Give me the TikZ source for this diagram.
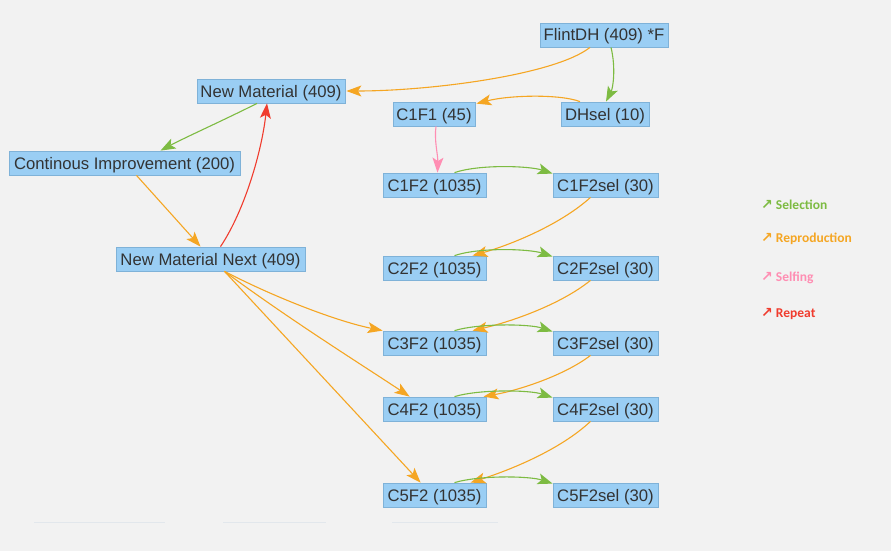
\documentclass[tikz,border=0pt]{standalone}
\usepackage{fontspec}
\setmainfont{Liberation Sans}
\newfontfamily\legfont{Carlito}
\newfontfamily\symfont{DejaVu Sans}
\usetikzlibrary{arrows.meta,calc}
\definecolor{bgc}{HTML}{F2F2F2}
\definecolor{nodefill}{HTML}{9ACEF4}
\definecolor{nodedraw}{HTML}{7FB2D8}
\definecolor{txt}{HTML}{333333}
\definecolor{selc}{HTML}{7DBB42}
\definecolor{repc}{HTML}{F5A623}
\definecolor{selfc}{HTML}{FF8EB3}
\definecolor{rptc}{HTML}{F03C2E}
\definecolor{faint}{HTML}{E2E7EC}
\tikzset{
  box/.style={draw=nodedraw, fill=nodefill, line width=0.8pt, minimum height=24pt,
    inner sep=0pt, text height=12pt, text depth=0pt, text=txt, font=\fontsize{16.7}{18}\selectfont},
  edge/.style={line width=1.1pt, -{Stealth[length=15pt,width=11pt,inset=3.5pt]}},
  sel/.style={edge, draw=selc},
  rep/.style={edge, draw=repc},
  selfing/.style={edge, draw=selfc},
  rpt/.style={edge, draw=rptc},
  leg/.style={anchor=west, inner sep=0pt, font=\legfont\bfseries\fontsize{13.5}{15}\selectfont}
}
\newcommand{\legarr}{{\symfont\bfseries\fontsize{14}{15}\selectfont ↗}}
\begin{document}
\begin{tikzpicture}[x=1pt,y=-1pt]
\fill[bgc] (0,0) rectangle (891,551);
\useasboundingbox (0,0) rectangle (891,551);
% faint lines at the bottom
\draw[faint, line width=0.8pt] (34,522) -- (165,522);
\draw[faint, line width=0.8pt] (223,522) -- (326,522);
\draw[faint, line width=0.8pt] (392,522) -- (498,522);
% nodes
\node[box, minimum width=128pt] (flint) at (604,35) {FlintDH (409) *F};
\node[box, minimum width=148pt] (nm) at (271,91) {New Material (409)};
\node[box, minimum width=88pt] (dhsel) at (605,114) {DHsel (10)};
\node[box, minimum width=82pt] (c1f1) at (434,114) {C1F1 (45)};
\node[box, minimum width=231pt] (ci) at (124.5,163) {Continous Improvement (200)};
\node[box, minimum width=189pt] (nmn) at (210.5,259) {New Material Next (409)};
\node[box, minimum width=103pt] (c1f2) at (434.5,185) {C1F2 (1035)};
\node[box, minimum width=105pt] (c1s) at (605.5,185) {C1F2sel (30)};
\node[box, minimum width=103pt] (c2f2) at (434.5,268) {C2F2 (1035)};
\node[box, minimum width=105pt] (c2s) at (605.5,268) {C2F2sel (30)};
\node[box, minimum width=103pt] (c3f2) at (434.5,343) {C3F2 (1035)};
\node[box, minimum width=105pt] (c3s) at (605.5,343) {C3F2sel (30)};
\node[box, minimum width=103pt] (c4f2) at (434.5,409) {C4F2 (1035)};
\node[box, minimum width=105pt] (c4s) at (605.5,409) {C4F2sel (30)};
\node[box, minimum width=103pt] (c5f2) at (434.5,495) {C5F2 (1035)};
\node[box, minimum width=105pt] (c5s) at (605.5,495) {C5F2sel (30)};
% edges
\draw[rep] ($(flint.south)+(-14,0)$) .. controls (555,75) and (430,91) .. ($(nm.east)+(1,0)$);
\draw[sel] ($(flint.south)+(7,0)$) .. controls (616,68) and (613,88) .. ($(dhsel.north)+(1,0)$);
\draw[rep] ($(dhsel.north)+(-25,0)$) .. controls (560,94) and (510,95) .. ($(c1f1.north east)+(1,2)$);
\draw[selfing] ($(c1f1.south)+(2,0)$) .. controls (434,140) and (438,155) .. ($(c1f2.north)+(3,0)$);
\draw[sel] ($(c1f2.north)+(20,0)$) .. controls (480,164) and (530,166) .. ($(c1s.north west)+(0,1)$);
\draw[rep] ($(c1s.south)+(-15,0)$) .. controls (560,225) and (510,245) .. ($(c2f2.north)+(38,0)$);
\draw[sel] ($(c2f2.north)+(20,0)$) .. controls (480,247) and (530,249) .. ($(c2s.north west)+(0,1)$);
\draw[rep] ($(c2s.south)+(-15,0)$) .. controls (560,305) and (510,322) .. ($(c3f2.north)+(38,0)$);
\draw[sel] ($(c3f2.north)+(20,0)$) .. controls (480,323) and (530,324) .. ($(c3s.north west)+(0,1)$);
\draw[rep] ($(c3s.south)+(-15,0)$) .. controls (565,375) and (520,390) .. ($(c4f2.north)+(49,0)$);
\draw[sel] ($(c4f2.north)+(20,0)$) .. controls (480,389) and (530,390) .. ($(c4s.north west)+(0,1)$);
\draw[rep] ($(c4s.south)+(-15,0)$) .. controls (560,450) and (510,470) .. ($(c5f2.north)+(36,0)$);
\draw[sel] ($(c5f2.north)+(20,0)$) .. controls (480,475) and (530,476) .. ($(c5s.north west)+(0,1)$);
\draw[sel] ($(nm.south)+(-14,0)$) .. controls (222,121) and (186,137) .. ($(ci.north)+(36,0)$);
\draw[rep] ($(ci.south)+(12,0)$) -- ($(nmn.north)+(-10,0)$);
\draw[rpt] ($(nmn.north)+(10,0)$) .. controls (245,210) and (262,150) .. ($(nm.south)+(-4,0)$);
\draw[rep] ($(nmn.south)+(14,0)$) .. controls (280,300) and (340,322) .. ($(c3f2.north west)+(0,0)$);
\draw[rep] ($(nmn.south)+(14,0)$) .. controls (290,320) and (370,370) .. ($(c4f2.north west)+(27,0)$);
\draw[rep] ($(nmn.south)+(14,0)$) -- ($(c5f2.north west)+(38,0)$);
% legend
\node[leg, text=selc] (l1) at (761,205) {\legarr\ Selection};
\node[leg, text=repc] (l2) at (761,239) {\legarr\ Reproduction};
\node[leg, text=selfc] (l3) at (761,278) {\legarr\ Selfing};
\node[leg, text=rptc] (l4) at (761,314) {\legarr\ Repeat};
\end{tikzpicture}
\end{document}
